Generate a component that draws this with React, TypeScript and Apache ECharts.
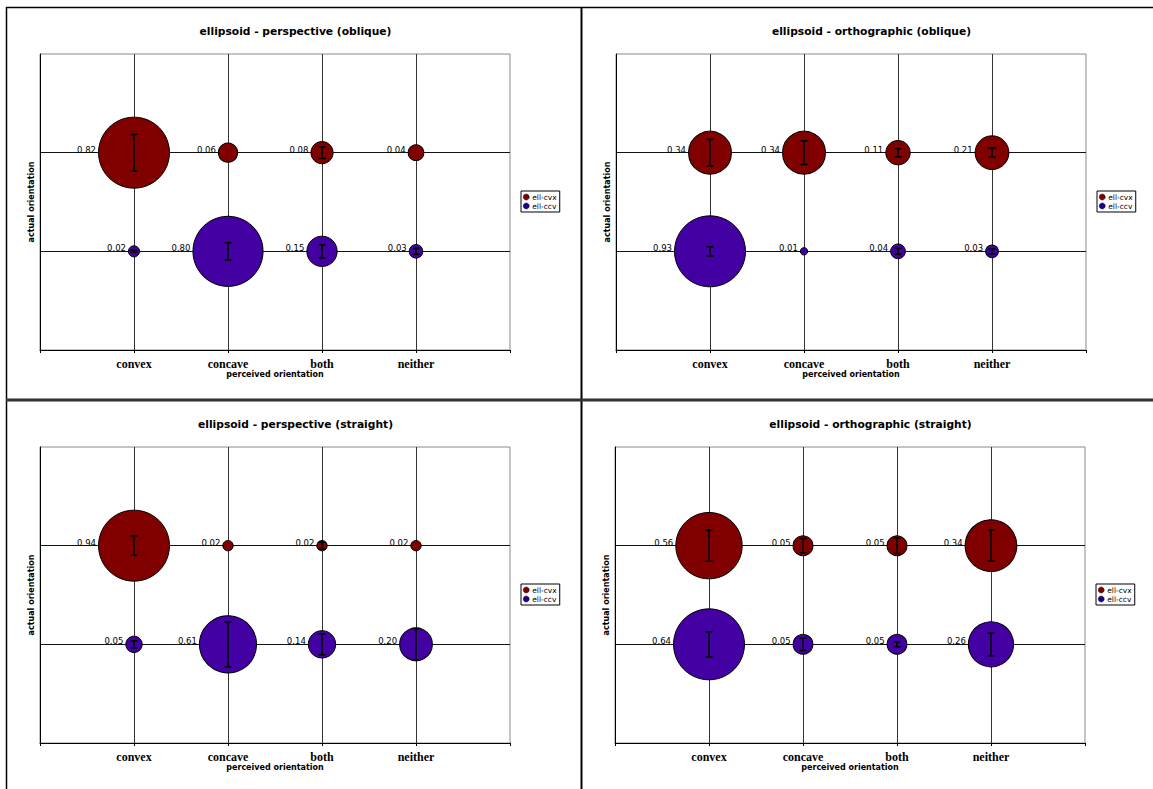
import React, { useEffect, useRef } from "react";
import * as echarts from "echarts";

// Response categories along the x axis (placed at x = 1..4)
const categories = ["convex", "concave", "both", "neither"];
const seriesNames = ["ell-cvx", "ell-ccv"];

const panelTitles = [
  "ellipsoid - perspective (oblique)",
  "ellipsoid - orthographic (oblique)",
  "ellipsoid - perspective (straight)",
  "ellipsoid - orthographic (straight)",
];

// Proportion of responses per category (bubble size & label)
const persObliqueCvx = [0.82, 0.06, 0.08, 0.04];
const persObliqueCcv = [0.02, 0.8, 0.15, 0.03];
const orthoObliqueCvx = [0.34, 0.34, 0.11, 0.21];
const orthoObliqueCcv = [0.93, 0.01, 0.04, 0.03];
const persStraightCvx = [0.94, 0.02, 0.02, 0.02];
const persStraightCcv = [0.05, 0.61, 0.14, 0.2];
const orthoStraightCvx = [0.56, 0.05, 0.05, 0.34];
const orthoStraightCcv = [0.64, 0.05, 0.05, 0.26];

// Error-bar half lengths (in y-axis units)
const persObliqueCvxErr = [0.186, 0, 0.059, 0];
const persObliqueCcvErr = [0.01, 0.088, 0.067, 0.03];
const orthoObliqueCvxErr = [0.135, 0.12, 0.042, 0.045];
const orthoObliqueCcvErr = [0.047, 0, 0.03, 0.025];
const persStraightCvxErr = [0.098, 0, 0.035, 0];
const persStraightCcvErr = [0.035, 0.228, 0.106, 0.16];
const orthoStraightCvxErr = [0.157, 0.072, 0.078, 0.157];
const orthoStraightCcvErr = [0.127, 0.062, 0.025, 0.115];

// Actual orientation rows: ell-cvx at y = 2, ell-ccv at y = 1
const rowY = [2, 1];

const panelValues = [
  [persObliqueCvx, persObliqueCcv],
  [orthoObliqueCvx, orthoObliqueCcv],
  [persStraightCvx, persStraightCcv],
  [orthoStraightCvx, orthoStraightCcv],
];
const panelErrors = [
  [persObliqueCvxErr, persObliqueCcvErr],
  [orthoObliqueCvxErr, orthoObliqueCcvErr],
  [persStraightCvxErr, persStraightCcvErr],
  [orthoStraightCvxErr, orthoStraightCcvErr],
];

const COLORS = ["#800000", "#4300a3"];
const LEGEND_COLORS = ["#800000", "#1c0090"];

// Panel origins on the page
const PANELS = [
  { x: 6, y: 7 },
  { x: 582, y: 7 },
  { x: 6, y: 400 },
  { x: 581, y: 400 },
];
const PANEL_W = 575;
const MAX_BUBBLE = 71;

const SANS = "'DejaVu Sans', Verdana, sans-serif";

function buildOption() {
  const grid: any[] = [];
  const xAxis: any[] = [];
  const yAxis: any[] = [];
  const series: any[] = [];
  const legend: any[] = [];
  const graphic: any[] = [];

  PANELS.forEach((p, i) => {
    const left = p.x + 34;
    const top = p.y + 47;
    grid.push({
      left,
      top,
      width: 470,
      height: 296,
      show: true,
      borderColor: "#8a8a8a",
      borderWidth: 1,
      backgroundColor: "#fff",
    });
    xAxis.push({
      type: "value",
      gridIndex: i,
      min: 0,
      max: 5,
      interval: 1,
      name: "perceived orientation",
      nameLocation: "middle",
      nameGap: 20,
      nameTextStyle: { fontFamily: SANS, fontWeight: "bold", fontSize: 8, color: "#000" },
      axisLine: { show: true, onZero: false, lineStyle: { color: "#000", width: 1 } },
      axisTick: { show: true, length: 3, lineStyle: { color: "#000" } },
      axisLabel: {
        margin: 8,
        fontFamily: "'Liberation Serif', 'Times New Roman', serif",
        fontWeight: "bold",
        fontSize: 12,
        color: "#000",
        formatter: (v: number) => categories[v - 1] ?? "",
      },
      splitLine: {
        show: true,
        lineStyle: {
          color: ["rgba(0,0,0,0)", "#333", "#333", "#333", "#333", "rgba(0,0,0,0)"],
          width: 1,
        },
      },
    });
    yAxis.push({
      type: "value",
      gridIndex: i,
      min: 0,
      max: 3,
      interval: 1,
      name: "actual orientation",
      nameLocation: "middle",
      nameRotate: 90,
      nameGap: 5,
      nameTextStyle: { fontFamily: SANS, fontWeight: "bold", fontSize: 8, color: "#000" },
      axisLine: { show: true, onZero: false, lineStyle: { color: "#000", width: 1 } },
      axisTick: { show: false },
      axisLabel: { show: false },
      splitLine: {
        show: true,
        lineStyle: { color: ["rgba(0,0,0,0)", "#111", "#111", "rgba(0,0,0,0)"], width: 1 },
      },
    });

    const allVals = panelValues[i][0].concat(panelValues[i][1]);
    const maxVal = Math.max(...allVals);

    seriesNames.forEach((name, s) => {
      const vals = panelValues[i][s];
      series.push({
        type: "scatter",
        name,
        xAxisIndex: i,
        yAxisIndex: i,
        data: vals.map((v, c) => [c + 1, rowY[s], v]),
        symbolSize: (val: number[]) => MAX_BUBBLE * Math.sqrt(val[2] / maxVal),
        itemStyle: { color: COLORS[s], borderColor: "#000", borderWidth: 1, opacity: 1 },
        label: {
          show: true,
          position: "left",
          distance: 2,
          offset: [0, -3],
          fontFamily: SANS,
          fontSize: 8.5,
          color: "#000",
          formatter: (prm: any) => prm.value[2].toFixed(2),
        },
        emphasis: { disabled: true },
        z: 2,
      });
    });

    seriesNames.forEach((name, s) => {
      const errs = panelErrors[i][s];
      series.push({
        type: "custom",
        name: name + "-err",
        xAxisIndex: i,
        yAxisIndex: i,
        silent: true,
        z: 5,
        encode: { x: 0, y: 1 },
        data: errs.map((e, c) => [c + 1, rowY[s], e]),
        renderItem: (params: any, api: any) => {
          const x = api.value(0);
          const y = api.value(1);
          const e = api.value(2);
          if (!e) return null;
          const hi = api.coord([x, y + e]);
          const lo = api.coord([x, y - e]);
          const cap = 3.5;
          const st = { stroke: "#000", lineWidth: 1.6 };
          return {
            type: "group",
            children: [
              { type: "line", shape: { x1: hi[0], y1: hi[1], x2: lo[0], y2: lo[1] }, style: st },
              { type: "line", shape: { x1: hi[0] - cap, y1: hi[1], x2: hi[0] + cap, y2: hi[1] }, style: st },
              { type: "line", shape: { x1: lo[0] - cap, y1: lo[1], x2: lo[0] + cap, y2: lo[1] }, style: st },
            ],
          };
        },
      });
    });

    legend.push({
      orient: "vertical",
      left: p.x + 515,
      top: p.y + 184,
      selectedMode: false,
      backgroundColor: "#fff",
      borderColor: "#000",
      borderWidth: 1,
      padding: [2, 3, 2, 2],
      itemGap: 1,
      itemWidth: 6,
      itemHeight: 6,
      icon: "circle",
      textStyle: { fontFamily: SANS, fontSize: 7.5, color: "#000", padding: [0, 0, 0, -2] },
      data: seriesNames.map((n, s) => ({ name: n, itemStyle: { color: LEGEND_COLORS[s], borderColor: "#000", borderWidth: 0.5 } })),
    });

    graphic.push({
      type: "text",
      x: p.x + PANEL_W / 2 + 2,
      y: p.y + 24,
      style: {
        text: panelTitles[i],
        font: "bold 10.7px " + SANS,
        fill: "#000",
        align: "center",
        verticalAlign: "middle",
      },
    });
  });

  // Panel frame and dividers
  const frame = { stroke: "#000", lineWidth: 1.5 };
  graphic.push(
    { type: "line", shape: { x1: 6, y1: 7.5, x2: 1153, y2: 7.5 }, style: frame, z: 10 },
    { type: "line", shape: { x1: 6.5, y1: 7, x2: 6.5, y2: 789 }, style: frame, z: 10 },
    { type: "line", shape: { x1: 581.5, y1: 7, x2: 581.5, y2: 789 }, style: { stroke: "#000", lineWidth: 2 }, z: 10 },
    { type: "line", shape: { x1: 6, y1: 400, x2: 1153, y2: 400 }, style: { stroke: "#333", lineWidth: 3 }, z: 10 }
  );

  return {
    animation: false,
    backgroundColor: "#fff",
    grid,
    xAxis,
    yAxis,
    series,
    legend,
    graphic,
  };
}

export default function App() {
  const ref = useRef<HTMLDivElement>(null);
  useEffect(() => {
    if (!ref.current) return;
    const chart = echarts.init(ref.current, undefined, { renderer: "svg" });
    chart.setOption(buildOption() as any);
    return () => chart.dispose();
  }, []);
  return (
    <div
      ref={ref}
      style={{ position: "absolute", left: 0, top: 0, width: 1153, height: 789, background: "#fff" }}
    />
  );
}
